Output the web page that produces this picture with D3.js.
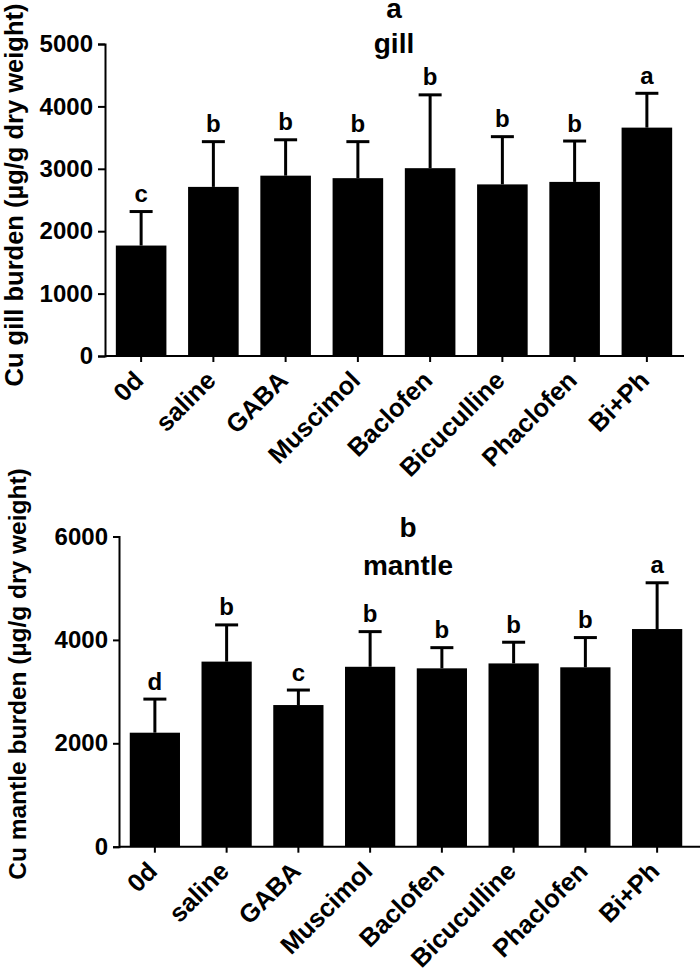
<!DOCTYPE html>
<html>
<head>
<meta charset="utf-8">
<script src="https://cdn.jsdelivr.net/npm/d3@7"></script>
<style>
  html, body { margin: 0; padding: 0; background: #fff; }
  svg text { font-family: "Liberation Sans", Arial, sans-serif; font-weight: bold; fill: #000; }
</style>
</head>
<body>
<svg id="chart" width="700" height="975"></svg>
<script>
// ---------- data ----------
const categories = ["0d", "saline", "GABA", "Muscimol", "Baclofen", "Bicuculline", "Phaclofen", "Bi+Ph"];

const gillMean    = [1770, 2710, 2890, 2850, 3010, 2750, 2790, 3660];
const gillSD      = [545, 725, 575, 585, 1175, 765, 655, 550];
const gillLetters = ["c", "b", "b", "b", "b", "b", "b", "a"];
const gillTicks   = [0, 1000, 2000, 3000, 4000, 5000];

const mantleMean    = [2205, 3580, 2740, 3480, 3450, 3545, 3470, 4210];
const mantleSD      = [650, 710, 290, 680, 400, 410, 575, 895];
const mantleLetters = ["d", "b", "c", "b", "b", "b", "b", "a"];
const mantleTicks   = [0, 2000, 4000, 6000];

const svg = d3.select("#chart");
const FONT = "Liberation Sans, Arial, sans-serif";

function panel(opt) {
  const g = svg.append("g");
  const x = d3.scaleBand().domain(categories).range([opt.x0, opt.x1])
    .paddingInner(0.3).paddingOuter(0.15);
  const y = d3.scaleLinear().domain([0, opt.ymax]).range([opt.yBottom, opt.yTop]);

  // bars
  g.selectAll("rect.bar").data(categories).enter().append("rect")
    .attr("x", d => x(d))
    .attr("width", x.bandwidth())
    .attr("y", (d, i) => y(opt.mean[i]))
    .attr("height", (d, i) => y(0) - y(opt.mean[i]))
    .attr("fill", "#000");

  // error bars (upper only)
  const capW = 23;
  g.selectAll("line.err").data(categories).enter().append("line")
    .attr("x1", d => x(d) + x.bandwidth() / 2)
    .attr("x2", d => x(d) + x.bandwidth() / 2)
    .attr("y1", (d, i) => y(opt.mean[i]))
    .attr("y2", (d, i) => y(opt.mean[i] + opt.sd[i]))
    .attr("stroke", "#000").attr("stroke-width", 3);
  g.selectAll("line.cap").data(categories).enter().append("line")
    .attr("x1", d => x(d) + x.bandwidth() / 2 - capW / 2)
    .attr("x2", d => x(d) + x.bandwidth() / 2 + capW / 2)
    .attr("y1", (d, i) => y(opt.mean[i] + opt.sd[i]))
    .attr("y2", (d, i) => y(opt.mean[i] + opt.sd[i]))
    .attr("stroke", "#000").attr("stroke-width", 3);

  // significance letters
  g.selectAll("text.sig").data(categories).enter().append("text")
    .attr("x", d => x(d) + x.bandwidth() / 2)
    .attr("y", (d, i) => y(opt.mean[i] + opt.sd[i]) - 9.5)
    .attr("text-anchor", "middle")
    .attr("font-size", 24)
    .text((d, i) => opt.letters[i]);

  // y axis
  const yAxis = g.append("g")
    .attr("transform", `translate(${opt.x0},0)`)
    .call(d3.axisLeft(y).tickValues(opt.ticks).tickFormat(d3.format("d")).tickSizeOuter(0).tickSize(opt.tickLen).tickPadding(5));
  yAxis.selectAll("path, line").attr("stroke", "#000").attr("stroke-width", 2);
  yAxis.selectAll("text").attr("font-size", 24).attr("font-family", FONT).attr("font-weight", "bold");

  // x axis
  const xAxis = g.append("g")
    .attr("transform", `translate(0,${opt.yBottom})`)
    .call(d3.axisBottom(x).tickSize(6).tickSizeOuter(0));
  xAxis.select("path.domain").remove();
  xAxis.append("line").attr("x1", opt.x0).attr("x2", opt.xLineEnd).attr("y1", 0).attr("y2", 0)
    .attr("stroke", "#000").attr("stroke-width", 2);
  xAxis.selectAll(".tick line").attr("stroke", "#000").attr("stroke-width", 2);
  xAxis.selectAll(".tick text")
    .attr("font-size", 25.5).attr("font-family", FONT).attr("font-weight", "bold")
    .attr("text-anchor", "end")
    .attr("dy", null)
    .attr("y", null)
    .attr("transform", "translate(4,26) rotate(-45)");

  // y label
  g.append("text")
    .attr("transform", `translate(${opt.ylabX},${opt.ylabY}) rotate(-90)`)
    .attr("text-anchor", "middle")
    .attr("font-size", opt.ylabSize)
    .text(opt.ylabel);

  // titles
  g.append("text").attr("x", opt.titleX).attr("y", opt.titleY1)
    .attr("text-anchor", "middle").attr("font-size", 28).text(opt.title1);
  g.append("text").attr("x", opt.titleX).attr("y", opt.titleY2)
    .attr("text-anchor", "middle").attr("font-size", 28).text(opt.title2);
}

panel({
  x0: 105, x1: 683, xLineEnd: 684, yTop: 44, yBottom: 356, ymax: 5000,
  mean: gillMean, sd: gillSD, letters: gillLetters, ticks: gillTicks, tickLen: 7,
  ylabel: "Cu gill burden (µg/g dry weight)", ylabX: 23, ylabY: 195, ylabSize: 25.5,
  title1: "a", title2: "gill", titleX: 394, titleY1: 18, titleY2: 53
});

panel({
  x0: 119, x1: 693, xLineEnd: 700, yTop: 536.5, yBottom: 846.7, ymax: 6000,
  mean: mantleMean, sd: mantleSD, letters: mantleLetters, ticks: mantleTicks, tickLen: 6,
  ylabel: "Cu mantle burden (µg/g dry weight)", ylabX: 26, ylabY: 674, ylabSize: 24.5,
  title1: "b", title2: "mantle", titleX: 408, titleY1: 537, titleY2: 575
});
</script>
</body>
</html>
